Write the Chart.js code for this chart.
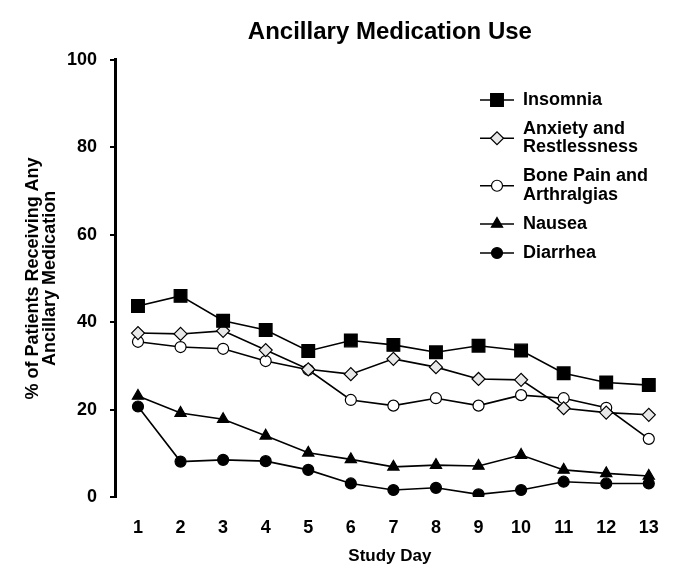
<!DOCTYPE html>
<html>
<head>
<meta charset="utf-8">
<title>Ancillary Medication Use</title>
<script src="https://cdn.jsdelivr.net/npm/chart.js@4.4.0/dist/chart.umd.min.js"></script>
<style>
	body { margin: 0; background: #fff; }
	#wrap { width: 675px; height: 578px; }
</style>
</head>
<body>
<div id="wrap">
	<canvas id="medChart" width="675" height="578"></canvas>
</div>
<script>
// dias del estudio
const studyDays = [1, 2, 3, 4, 5, 6, 7, 8, 9, 10, 11, 12, 13];
const yTicks = [0, 20, 40, 60, 80, 100];

// % de pacientes por medicación
const insomnia = [43.7, 46.0, 40.3, 38.2, 33.4, 35.8, 34.8, 33.1, 34.6, 33.5, 28.3, 26.2, 25.6];
const anxiety = [37.5, 37.3, 38.0, 33.6, 29.2, 28.1, 31.6, 29.7, 27.0, 26.8, 20.3, 19.3, 18.8];
const bonePain = [35.5, 34.3, 33.9, 31.1, 29.1, 22.2, 20.9, 22.6, 20.9, 23.3, 22.6, 20.4, 13.3];
const nausea = [23.1, 19.2, 17.8, 14.0, 10.1, 8.6, 6.9, 7.3, 7.1, 9.6, 6.2, 5.4, 4.8];
const diarrhea = [20.7, 8.1, 8.5, 8.2, 6.2, 3.1, 1.6, 2.1, 0.6, 1.6, 3.5, 3.1, 3.1];

// textos de la leyenda (varias lineas)
const legendLines = [
	['Insomnia'],
	['Anxiety and', 'Restlessness'],
	['Bone Pain and', 'Arthralgias'],
	['Nausea'],
	['Diarrhea']
];

const FONT = '"Liberation Sans", Arial, sans-serif';
Chart.defaults.font.family = FONT;
Chart.defaults.color = '#000';

const points = (arr) => arr.map((v, i) => ({ x: studyDays[i], y: v }));

function serie(label, values, style, radius, fill){
	return {
		label: label,
		data: points(values),
		borderColor: '#000',
		borderWidth: 1.6,
		pointStyle: style,
		pointRadius: radius,
		pointBackgroundColor: fill,
		pointBorderColor: '#000',
		pointBorderWidth: 1.2,
		tension: 0
	};
}

// leyenda dibujada a mano para soportar textos de dos lineas
const multiLegend = {
	id: 'multiLegend',
	afterDraw(chart){
		const ctx = chart.ctx;
		const lh = 18.5, gap = 10.5;
		let y = 100;
		ctx.save();
		ctx.font = 'bold 18px ' + FONT;
		ctx.textBaseline = 'middle';
		ctx.textAlign = 'left';
		chart.data.datasets.forEach((ds, i) => {
			const lines = legendLines[i];
			const my = y + (lines.length - 1) * lh / 2;
			ctx.strokeStyle = '#000';
			ctx.lineWidth = 1.5;
			ctx.beginPath();
			ctx.moveTo(480, my);
			ctx.lineTo(514, my);
			ctx.stroke();
			ctx.fillStyle = ds.pointBackgroundColor;
			ctx.lineWidth = ds.pointBorderWidth;
			Chart.helpers.drawPoint(ctx, {
				pointStyle: ds.pointStyle,
				radius: ds.pointRadius,
				rotation: 0,
				borderWidth: ds.pointBorderWidth
			}, 497, my);
			ctx.fillStyle = '#000';
			lines.forEach((t, k) => ctx.fillText(t, 523, y + k * lh));
			y += lines.length * lh + gap;
		});
		ctx.restore();
	}
};

new Chart(document.getElementById('medChart'), {
	type: 'line',
	data: {
		datasets: [
			serie('Insomnia', insomnia, 'rect', 9, '#000'),
			serie('Anxiety and Restlessness', anxiety, 'rectRot', 6.5, '#e8e8e8'),
			serie('Bone Pain and Arthralgias', bonePain, 'circle', 5.5, '#fff'),
			serie('Nausea', nausea, 'triangle', 6.5, '#000'),
			serie('Diarrhea', diarrhea, 'circle', 5.5, '#000')
		]
	},
	options: {
		responsive: false,
		animation: false,
		layout: { padding: { left: 0, right: 10, top: 0, bottom: 0 } },
		plugins: {
			legend: { display: false },
			tooltip: { enabled: false },
			title: {
				display: true,
				fullSize: false,
				text: 'Ancillary Medication Use',
				font: { size: 24, weight: 'bold' },
				color: '#000',
				padding: { top: 18, bottom: 13 }
			}
		},
		scales: {
			x: {
				type: 'linear',
				min: 0.46,
				max: 13.376,
				afterBuildTicks: (scale) => { scale.ticks = studyDays.map(v => ({ value: v })); },
				afterFit: (scale) => {
					scale.height = 81;
					scale.paddingLeft = 0;
					scale.paddingRight = 0;
				},
				grid: { display: false, drawTicks: false },
				border: { display: false },
				ticks: {
					font: { size: 18, weight: 'bold' },
					padding: 20,
					maxRotation: 0,
					autoSkip: false
				},
				title: {
					display: true,
					text: 'Study Day',
					font: { size: 17, weight: 'bold' },
					padding: { top: 0, bottom: 11 }
				}
			},
			y: {
				min: 0,
				max: 100,
				afterBuildTicks: (scale) => { scale.ticks = yTicks.map(v => ({ value: v })); },
				afterFit: (scale) => { scale.width = 115; },
				grid: {
					display: true,
					drawOnChartArea: false,
					drawTicks: true,
					tickLength: 5,
					color: '#000',
					lineWidth: 2
				},
				border: { display: true, color: '#000', width: 3 },
				ticks: {
					font: { size: 18, weight: 'bold' },
					padding: 13
				},
				title: {
					display: true,
					text: ['% of Patients Receiving Any', 'Ancillary Medication'],
					font: { size: 18, weight: 'bold', lineHeight: 0.97 },
					padding: { top: 24, bottom: 0 }
				}
			}
		}
	},
	plugins: [multiLegend]
});
</script>
</body>
</html>
